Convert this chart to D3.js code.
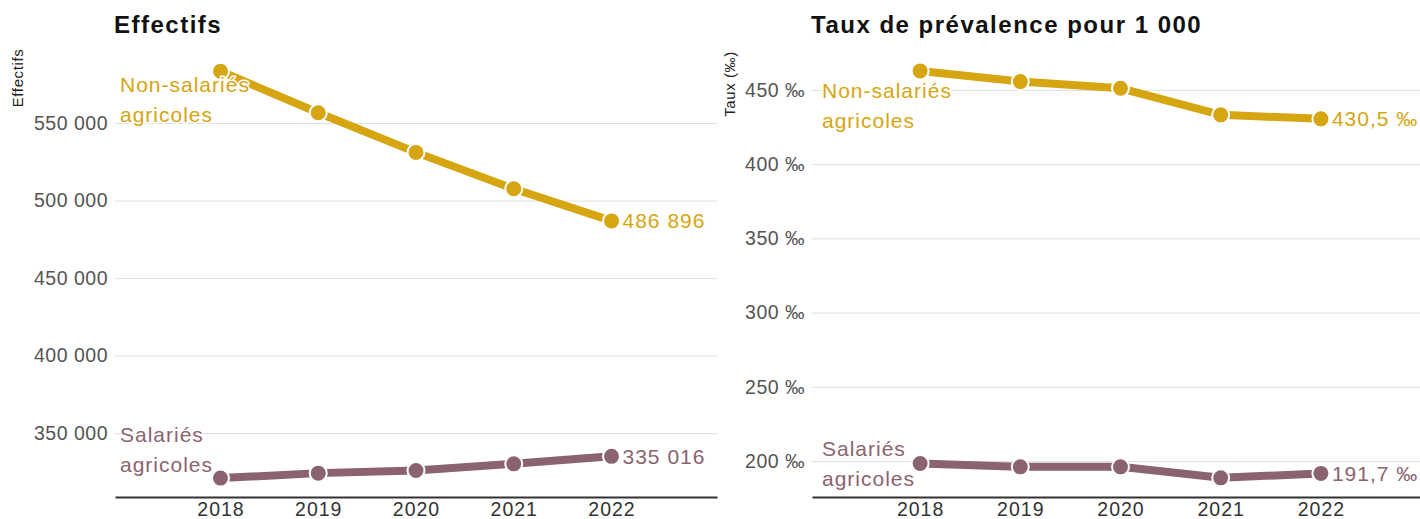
<!DOCTYPE html>
<html>
<head>
<meta charset="utf-8">
<script src="https://cdn.jsdelivr.net/npm/d3@7"></script>
<style>
  body { margin: 0; background: #fff; }
  svg { display: block; font-family: "Liberation Sans", Arial, sans-serif; }
</style>
</head>
<body>
<svg id="chart" width="1420" height="519"></svg>
<script>
// data
var years = [2018, 2019, 2020, 2021, 2022];
var effectifsNonSal = [583400, 556700, 531100, 507600, 486896];
var effectifsSal = [321000, 324200, 325900, 330200, 335016];
var tauxNonSal = [462.8, 455.6, 451.1, 433.2, 430.5];
var tauxSal = [198.4, 196.1, 196.1, 188.7, 191.7];
var effectifsTicks = [350000, 400000, 450000, 500000, 550000];
var tauxTicks = [200, 250, 300, 350, 400, 450];

var gold = "#d6a512", mauve = "#8b6370";

var fr = d3.formatLocale({decimal: ",", thousands: "\u00a0", grouping: [3], currency: ["", " €"]});
var fmtInt = fr.format(",d");
var fmtTaux = function(v) { return fr.format(".1f")(v) + " ‰"; };
var fmtTick = function(v) { return v + " ‰"; };

var svg = d3.select("#chart");

var panels = [
  {left: 115, right: 717, title: "Effectifs", ytitle: "Effectifs", ytitleX: 23, ytitleY: 78, labelX: 5,
   domain: [308800, 589400], ticks: effectifsTicks, tickFmt: fmtInt, endFmt: fmtInt,
   series: [
     {vals: effectifsNonSal, color: gold, lines: ["Non-salariés", "agricoles"], dy: 21},
     {vals: effectifsSal, color: mauve, lines: ["Salariés", "agricoles"], dy: -36}
   ]},
  {left: 812, right: 1429, title: "Taux de prévalence pour 1 000", ytitle: "Taux (‰)", ytitleX: 735, ytitleY: 84, labelX: 10,
   domain: [175.8, 468.8], ticks: tauxTicks, tickFmt: fmtTick, endFmt: fmtTaux,
   series: [
     {vals: tauxNonSal, color: gold, lines: ["Non-salariés", "agricoles"], dy: 27},
     {vals: tauxSal, color: mauve, lines: ["Salariés", "agricoles"], dy: -7}
   ]}
];

var plotBottom = 497, plotTop = 62;

panels.forEach(function(p) {
  var x = d3.scalePoint().domain(years).range([p.left, p.right]).padding(1.079);
  var y = d3.scaleLinear().domain(p.domain).range([plotBottom, plotTop]);
  var g = svg.append("g");

  // title
  g.append("text")
    .attr("x", p.left - 1).attr("y", 33)
    .attr("font-size", 24).attr("font-weight", "bold").attr("fill", "#111")
    .attr("letter-spacing", 1.5)
    .text(p.title);

  // y title
  g.append("text")
    .attr("transform", "translate(" + p.ytitleX + "," + p.ytitleY + ") rotate(-90)")
    .attr("text-anchor", "middle").attr("font-size", 15).attr("fill", "#222")
    .attr("letter-spacing", 0.6)
    .text(p.ytitle);

  // gridlines + y labels
  var yAxis = g.append("g")
    .attr("transform", "translate(" + p.left + ",0)")
    .call(d3.axisLeft(y).tickValues(p.ticks).tickFormat(p.tickFmt)
      .tickSize(-(p.right - p.left)).tickPadding(7));
  yAxis.select(".domain").remove();
  yAxis.selectAll(".tick line").attr("stroke", "#dedede");
  yAxis.selectAll(".tick text").attr("font-size", 19.5).attr("fill", "#555")
    .attr("letter-spacing", 0.5)
    .attr("font-family", "Liberation Sans, Arial, sans-serif");

  // x axis
  var xAxis = g.append("g")
    .attr("transform", "translate(0," + plotBottom + ")")
    .call(d3.axisBottom(x).tickSize(0).tickPadding(5));
  xAxis.select(".domain").attr("stroke", "#333").attr("stroke-width", 2);
  xAxis.selectAll(".tick text").attr("font-size", 19.5).attr("fill", "#333")
    .attr("letter-spacing", 1)
    .attr("font-family", "Liberation Sans, Arial, sans-serif");

  var line = d3.line().x(function(d, i) { return x(years[i]); }).y(function(d) { return y(d); });

  p.series.forEach(function(s) {
    g.append("path").datum(s.vals)
      .attr("d", line).attr("fill", "none")
      .attr("stroke", s.color).attr("stroke-width", 8);

    g.selectAll(null).data(s.vals).enter().append("circle")
      .attr("cx", function(d, i) { return x(years[i]); })
      .attr("cy", function(d) { return y(d); })
      .attr("r", 8.5).attr("fill", s.color)
      .attr("stroke", "#fff").attr("stroke-width", 2);

    // end label
    var last = s.vals[s.vals.length - 1];
    g.append("text")
      .attr("x", x(years[years.length - 1]) + 11).attr("y", y(last))
      .attr("dy", "0.35em").attr("font-size", 21).attr("fill", s.color)
      .attr("letter-spacing", 1)
      .text(p.endFmt(last));

    // series name
    var y0 = y(s.vals[0]) + s.dy;
    var t = g.append("text")
      .attr("font-size", 21).attr("fill", s.color).attr("letter-spacing", 1)
      .attr("stroke", "#fff").attr("stroke-width", 3).attr("paint-order", "stroke");
    s.lines.forEach(function(l, i) {
      t.append("tspan").attr("x", p.left + p.labelX).attr("y", y0 + i * 30).text(l);
    });
  });
});
</script>
</body>
</html>
